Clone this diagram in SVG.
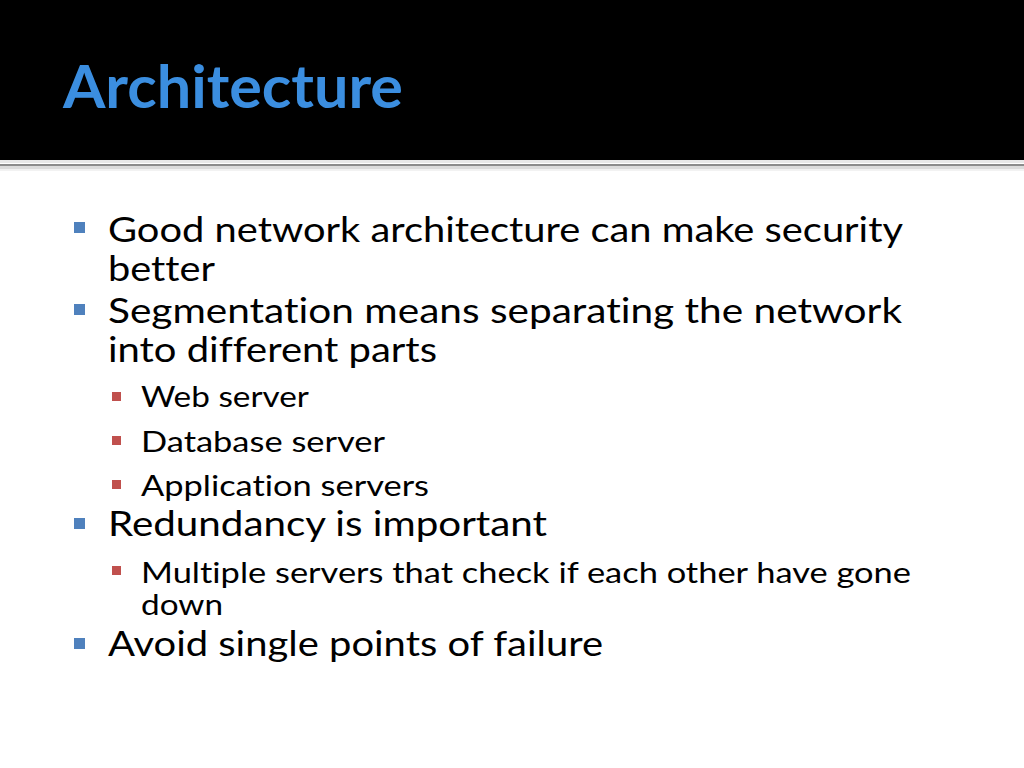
<svg xmlns="http://www.w3.org/2000/svg" width="1024" height="768" viewBox="0 0 1024 768">
<style>
.t{font-family:Lato,"Open Sans","Liberation Sans",sans-serif;fill:#000;font-variant-ligatures:none}
.l1{font-size:34px}
.l2{font-size:28px}
.title{font-family:Lato,"Open Sans","Liberation Sans",sans-serif;font-size:60px;font-weight:bold;fill:#3b8ee0;font-variant-ligatures:none}
.b1{fill:#4f81bd}
.b2{fill:#c0504d}
</style>
<rect x="0" y="0" width="1024" height="768" fill="#ffffff"/>
<g id="header">
<rect x="0" y="0" width="1024" height="160" fill="#000000"/>
<rect x="0" y="160" width="1024" height="3" fill="#e8e8e8"/>
<rect x="0" y="164" width="1024" height="2" fill="#8c8c8c"/>
<rect x="0" y="166" width="1024" height="3" fill="#dcdcdc"/>
<rect x="0" y="169" width="1024" height="2" fill="#f2f2f2"/>
<text class="title" x="63" y="108" textLength="340" lengthAdjust="spacingAndGlyphs">Architecture</text>
</g>
<g id="bullets">
<rect class="b1" x="74" y="222" width="11" height="11"/>
<text class="t l1" x="108" y="242" textLength="795" lengthAdjust="spacingAndGlyphs">Good network architecture can make security</text>
<text class="t l1" x="108" y="281" textLength="107" lengthAdjust="spacingAndGlyphs">better</text>
<rect class="b1" x="74" y="304" width="11" height="11"/>
<text class="t l1" x="108" y="323" textLength="794" lengthAdjust="spacingAndGlyphs">Segmentation means separating the network</text>
<text class="t l1" x="108" y="362" textLength="329" lengthAdjust="spacingAndGlyphs">into different parts</text>
<rect class="b2" x="112" y="392" width="9" height="9"/>
<text class="t l2" x="141" y="407" textLength="168" lengthAdjust="spacingAndGlyphs">Web server</text>
<rect class="b2" x="112" y="436" width="9" height="9"/>
<text class="t l2" x="141" y="452" textLength="244" lengthAdjust="spacingAndGlyphs">Database server</text>
<rect class="b2" x="112" y="480" width="9" height="9"/>
<text class="t l2" x="141" y="496" textLength="288" lengthAdjust="spacingAndGlyphs">Application servers</text>
<rect class="b1" x="74" y="518" width="11" height="11"/>
<text class="t l1" x="108" y="536" textLength="439" lengthAdjust="spacingAndGlyphs">Redundancy is important</text>
<rect class="b2" x="112" y="566" width="9" height="9"/>
<text class="t l2" x="141" y="583" textLength="770" lengthAdjust="spacingAndGlyphs">Multiple servers that check if each other have gone</text>
<text class="t l2" x="141" y="615" textLength="82" lengthAdjust="spacingAndGlyphs">down</text>
<rect class="b1" x="74" y="638" width="11" height="11"/>
<text class="t l1" x="108" y="656" textLength="495" lengthAdjust="spacingAndGlyphs">Avoid single points of failure</text>
</g>
</svg>
